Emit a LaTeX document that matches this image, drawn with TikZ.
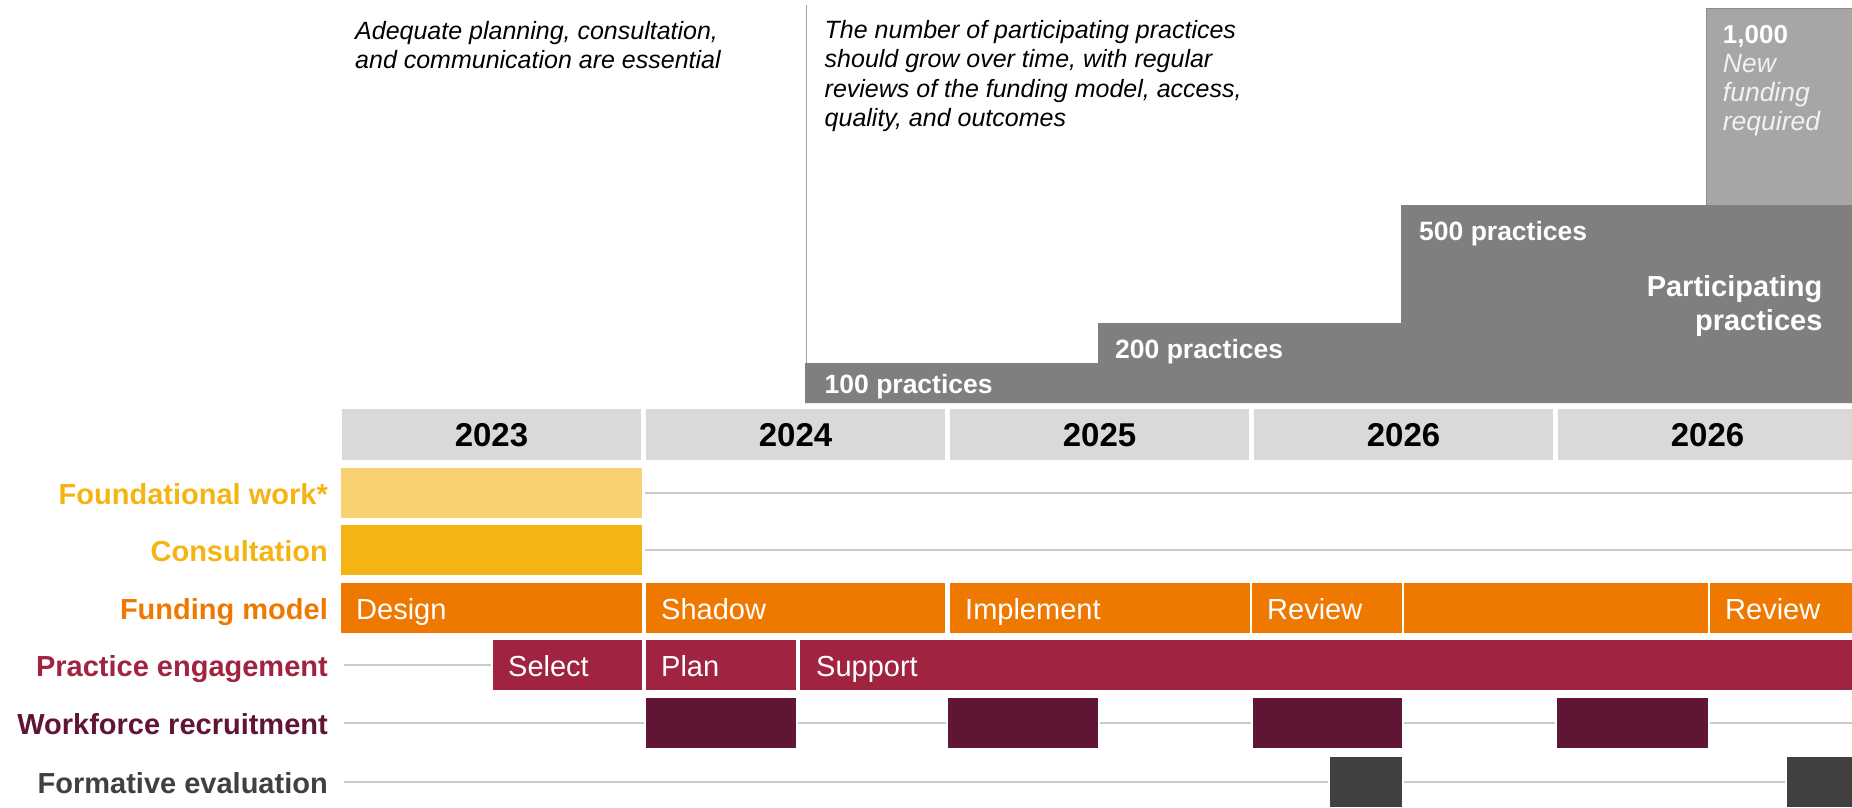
\documentclass[tikz,border=0pt]{standalone}
\usepackage{fontspec}
\setmainfont{Liberation Sans}

\definecolor{cGold}{HTML}{F4B414}
\definecolor{cPale}{HTML}{F8D271}
\definecolor{cOrange}{HTML}{EE7800}
\definecolor{cCrimson}{HTML}{A0233F}
\definecolor{cMaroon}{HTML}{611535}
\definecolor{cCharcoal}{HTML}{404040}
\definecolor{cHdr}{HTML}{D9D9D9}
\definecolor{cStep}{HTML}{7F7F7F}
\definecolor{cBox}{HTML}{A6A6A6}
\definecolor{cBoxEdge}{HTML}{8C8C8C}
\definecolor{cRule}{HTML}{CACACA}
\definecolor{cVline}{HTML}{A0A0A0}
\definecolor{cSoft}{HTML}{F2F2F2}

\begin{document}
\begin{tikzpicture}[x=1pt,y=-1pt,
  bar/.style={anchor=north west, inner sep=0pt, outer sep=0pt, minimum height=50pt},
  yearbox/.style={anchor=north west, inner sep=0pt, outer sep=0pt,
    minimum height=51pt, minimum width=299pt, fill=cHdr},
  yeartext/.style={anchor=base, inner sep=0pt, font=\fontsize{33}{36}\selectfont\bfseries},
  rowlabel/.style={anchor=base east, inner sep=0pt, font=\fontsize{29}{33}\selectfont\bfseries},
  bartext/.style={anchor=base west, inner sep=0pt, text=white, font=\fontsize{29}{33}\selectfont},
  steptext/.style={anchor=base west, inner sep=0pt, text=white, font=\fontsize{26.5}{30}\selectfont\bfseries},
  note/.style={anchor=base west, inner sep=0pt, align=left, font=\fontsize{25}{29.3}\selectfont\itshape},
  gridline/.style={draw=cRule, line width=2pt},
]
\useasboundingbox (0,0) rectangle (1852,807);

% ---------- participating practices staircase ----------
\node[bar, fill=cBox, draw=cBoxEdge, line width=1pt, minimum width=152pt, minimum height=198pt]
  (newbox) at (1706,8) {};
\fill[cStep] (805,403) -- (805,363) -- (1098,363) -- (1098,323) -- (1401,323)
  -- (1401,205) -- (1852,205) -- (1852,403) -- cycle;

\coordinate (vtop) at (806.5,5);
\coordinate (vbot) at (806.5,363);
\draw[cVline, line width=1.3pt] (vtop) -- (vbot);

% multi-line texts are placed by the baseline of their last line
\node[note] (noteA) at (355,68.3) {Adequate planning, consultation,\\and communication are essential};
\node[note] (noteB) at (824.5,126.5) {The number of participating practices\\should grow over time, with regular\\reviews of the funding model, access,\\quality, and outcomes};

\node[steptext] (s100) at (824.5,393) {100 practices};
\node[steptext] (s200) at (1115,358) {200 practices};
\node[steptext] (s500) at (1419,240) {500 practices};
\node[anchor=base east, inner sep=0pt, align=right, text=white,
  font=\fontsize{29}{33.3}\selectfont\bfseries] (spart) at (1822.6,330) {Participating\\practices};
\node[steptext, font=\fontsize{26}{28.9}\selectfont\bfseries] (s1000) at (1722.7,43.3) {1,000};
\node[anchor=base west, inner sep=0pt, align=left, text=cSoft,
  font=\fontsize{26.5}{28.9}\selectfont\itshape] (snew) at (1722.7,130) {New\\funding\\required};

% ---------- year header ----------
\node[yearbox] (y1) at (342,409) {};
\node[yearbox] (y2) at (646,409) {};
\node[yearbox] (y3) at (950,409) {};
\node[yearbox] (y4) at (1254,409) {};
\node[yearbox] (y5) at (1558,409) {};
\node[yeartext] (ty1) at ([yshift=-12pt]y1.center) {2023};
\node[yeartext] (ty2) at ([yshift=-12pt]y2.center) {2024};
\node[yeartext] (ty3) at ([yshift=-12pt]y3.center) {2025};
\node[yeartext] (ty4) at ([yshift=-12pt]y4.center) {2026};
\node[yeartext] (ty5) at ([yshift=-12pt]y5.center) {2026};

% ---------- row labels ----------
\node[rowlabel, text=cGold]     (lf) at (328,504.5) {Foundational work*};
\node[rowlabel, text=cGold]     (lc) at (328,561.5) {Consultation};
\node[rowlabel, text=cOrange]   (lm) at (328,619.5) {Funding model};
\node[rowlabel, text=cCrimson]  (lp) at (328,676.5) {Practice engagement};
\node[rowlabel, text=cMaroon]   (lw) at (328,734.5) {Workforce recruitment};
\node[rowlabel, text=cCharcoal] (le) at (328,793.5) {Formative evaluation};

% ---------- bars ----------
\node[bar, fill=cPale, minimum width=301pt] (found) at (341,468) {};
\node[bar, fill=cGold, minimum width=301pt] (consult) at (341,525) {};

\node[bar, fill=cOrange, minimum width=301pt] (fdesign) at (341,583) {};
\node[bar, fill=cOrange, minimum width=299pt] (fshadow) at (646,583) {};
\node[bar, fill=cOrange, minimum width=300pt] (fimpl) at (950,583) {};
\node[bar, fill=cOrange, minimum width=150pt] (frev1) at (1252,583) {};
\node[bar, fill=cOrange, minimum width=304pt] (frun) at (1404,583) {};
\node[bar, fill=cOrange, minimum width=142pt] (frev2) at (1710,583) {};

\node[bar, fill=cCrimson, minimum width=149pt] (pselect) at (493,640) {};
\node[bar, fill=cCrimson, minimum width=150pt] (pplan) at (646,640) {};
\node[bar, fill=cCrimson, minimum width=1052pt] (psupport) at (800,640) {};

\node[bar, fill=cMaroon, minimum width=150pt] (w1) at (646,698) {};
\node[bar, fill=cMaroon, minimum width=150pt] (w2) at (948,698) {};
\node[bar, fill=cMaroon, minimum width=149pt] (w3) at (1253,698) {};
\node[bar, fill=cMaroon, minimum width=151pt] (w4) at (1557,698) {};

\node[bar, fill=cCharcoal, minimum width=72pt] (e1) at (1330,757) {};
\node[bar, fill=cCharcoal, minimum width=65pt] (e2) at (1787,757) {};

% ---------- bar texts ----------
\node[bartext] (tdesign) at ([xshift=15pt,yshift=-11pt]fdesign.west) {Design};
\node[bartext] (tshadow) at ([xshift=15pt,yshift=-11pt]fshadow.west) {Shadow};
\node[bartext] (timpl) at ([xshift=15pt,yshift=-11pt]fimpl.west) {Implement};
\node[bartext] (trev1) at ([xshift=15pt,yshift=-11pt]frev1.west) {Review};
\node[bartext] (trev2) at ([xshift=15pt,yshift=-11pt]frev2.west) {Review};
\node[bartext] (tselect) at ([xshift=15pt,yshift=-11pt]pselect.west) {Select};
\node[bartext] (tplan) at ([xshift=15pt,yshift=-11pt]pplan.west) {Plan};
\node[bartext] (tsupport) at ([xshift=16pt,yshift=-11pt]psupport.west) {Support};

% ---------- guide lines between bars ----------
\coordinate (fEnd) at (1852,493);
\coordinate (cEnd) at (1852,550);
\coordinate (pStart) at (344,665);
\coordinate (wStart) at (344,723);
\coordinate (wEnd) at (1852,723);
\coordinate (eStart) at (344,782);

\draw[gridline, shorten <=3pt] (found.east) -- (fEnd);
\draw[gridline, shorten <=3pt] (consult.east) -- (cEnd);
\draw[gridline, shorten >=2pt] (pStart) -- (pselect.west);
\draw[gridline, shorten >=2pt] (wStart) -- (w1.west);
\draw[gridline, shorten <=2pt, shorten >=2pt] (w1.east) -- (w2.west);
\draw[gridline, shorten <=2pt, shorten >=2pt] (w2.east) -- (w3.west);
\draw[gridline, shorten <=2pt, shorten >=2pt] (w3.east) -- (w4.west);
\draw[gridline, shorten <=2pt] (w4.east) -- (wEnd);
\draw[gridline, shorten >=2pt] (eStart) -- (e1.west);
\draw[gridline, shorten <=2pt, shorten >=2pt] (e1.east) -- (e2.west);
\end{tikzpicture}
\end{document}
